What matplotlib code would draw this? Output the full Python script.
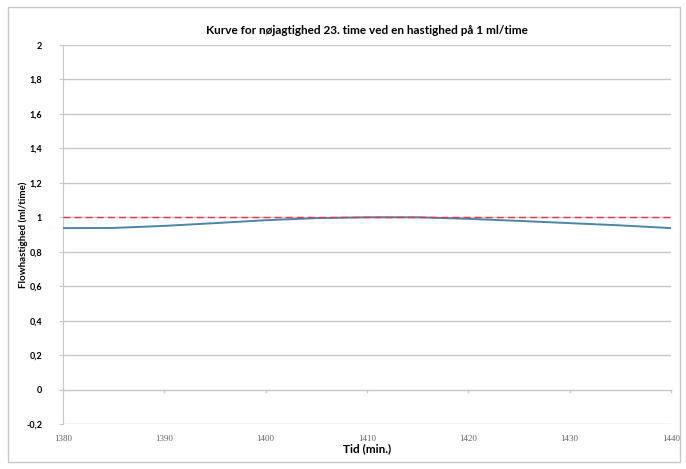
import matplotlib
matplotlib.use("Agg")
import matplotlib.pyplot as plt
from matplotlib.patches import Rectangle
from matplotlib.ticker import FuncFormatter

plt.rcParams['font.family'] = ['Lato', 'DejaVu Sans']

time_min = [1380, 1385, 1390, 1395, 1400, 1405, 1410, 1415, 1420, 1425, 1430, 1435, 1440]
flow = [0.937, 0.938, 0.950, 0.966, 0.983, 0.995, 1.000, 1.000, 0.991, 0.979, 0.966, 0.953, 0.937]
target_x = [1380, 1440]
target_y = [1.0, 1.0]
yticks = [-0.2, 0, 0.2, 0.4, 0.6, 0.8, 1.0, 1.2, 1.4, 1.6, 1.8, 2.0]
xticks = [1380, 1390, 1400, 1410, 1420, 1430, 1440]

fig = plt.figure(figsize=(6.86, 4.69), dpi=100)
ax = fig.add_axes([63/686, 1 - 424/469, (671-63)/686, (424-45)/469])

fig.patches.append(Rectangle((8/686, 7/469), 672/686, 455/469, transform=fig.transFigure,
                             fill=False, edgecolor='#c8c8c8', linewidth=1))

for yv in yticks:
    ax.axhline(yv, color='#c8c8c8', linewidth=1.0, zorder=1)

ax.plot(time_min, flow, color='#4a86a8', linewidth=1.4, zorder=3)
ax.plot(target_x, target_y, color='#e8334a', linewidth=1.0, linestyle=(0, (5, 3)), zorder=4)

ax.set_xlim(1380, 1440)
ax.set_ylim(-0.2, 2.0)
ax.set_yticks(yticks)
ax.set_xticks(xticks)
ax.yaxis.set_major_formatter(FuncFormatter(lambda v, p: ('%g' % round(v, 1)).replace('.', ',')))
ax.tick_params(axis='y', labelsize=6.5, length=3, color='#c8c8c8', pad=12)
for lab in ax.get_yticklabels():
    lab.set_fontweight('bold')
ax.tick_params(axis='x', labelsize=6.5, length=0, pad=8, labelcolor='#666666')
for lab in ax.get_xticklabels():
    lab.set_family(['Liberation Serif', 'DejaVu Serif'])

# small tick marks on the zero line
for xv in xticks:
    ax.plot([xv, xv], [0, -0.012], color='#c8c8c8', linewidth=1, zorder=2, clip_on=False)

for s in ['top', 'right', 'bottom']:
    ax.spines[s].set_visible(False)
ax.spines['left'].set_color('#c8c8c8')

ax.set_title('Kurve for nøjagtighed 23. time ved en hastighed på 1 ml/time',
             fontsize=8.5, fontweight='bold', pad=8)
ax.set_xlabel('Tid (min.)', fontsize=8.5, fontweight='bold', labelpad=0)
ax.set_ylabel('Flowhastighed (ml/time)', fontsize=7, fontweight='bold')
ax.yaxis.set_label_coords((28 - 63) / 608, 0.5)

fig.savefig('out.png', dpi=100)
